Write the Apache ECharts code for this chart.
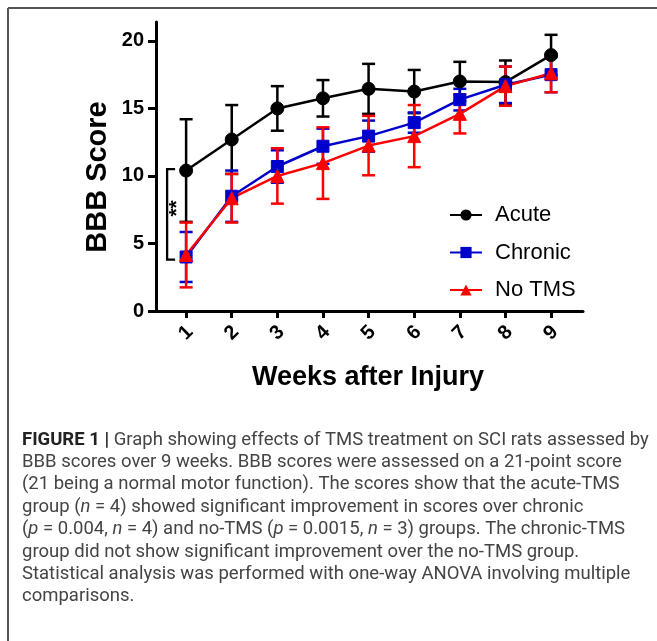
<!DOCTYPE html>
<html>
<head>
<meta charset="utf-8">
<script src="https://cdn.jsdelivr.net/npm/echarts@6/dist/echarts.min.js"></script>
<style>
  html, body { margin: 0; padding: 0; background: #fff; }
  #chart { width: 657px; height: 641px; }
</style>
</head>
<body>
<div id="chart"></div>
<script>
// weeks after injury
const weeks = [1, 2, 3, 4, 5, 6, 7, 8, 9]
const yTicks = [0, 5, 10, 15, 20]

// BBB score means and SD
const acuteMean = [10.4, 12.7, 15.0, 15.75, 16.45, 16.25, 17.0, 16.95, 18.95]
const acuteSd = [3.8, 2.55, 1.65, 1.35, 1.85, 1.6, 1.45, 1.6, 1.5]
const chronicMean = [4.0, 8.5, 10.7, 12.2, 12.95, 13.95, 15.65, 16.75, 17.5]
const chronicSd = [1.85, 1.9, 1.2, 1.3, 1.15, 0.75, 0.8, 1.35, 1.3]
const noTmsMean = [4.15, 8.35, 10.0, 10.95, 12.25, 12.95, 14.6, 16.65, 17.6]
const noTmsSd = [2.4, 1.8, 2.05, 2.65, 2.2, 2.3, 1.45, 1.45, 1.4]

// significance bracket at week 1 (acute vs others)
const bracketWeek = 1
const bracketRange = [10.5, 3.8]
const bracketLabel = '**'

const captionLines = [
  '{b|FIGURE 1 |} Graph showing effects of TMS treatment on SCI rats assessed by',
  'BBB scores over 9 weeks. BBB scores were assessed on a 21-point score',
  '(21 being a normal motor function). The scores show that the acute-TMS',
  'group ({i|n} = 4) showed significant improvement in scores over chronic',
  '({i|p} = 0.004, {i|n} = 4) and no-TMS ({i|p} = 0.0015, {i|n} = 3) groups. The chronic-TMS',
  'group did not show significant improvement over the no-TMS group.',
  'Statistical analysis was performed with one-way ANOVA involving multiple',
  'comparisons.'
]

const FONT = '"Liberation Sans", Arial, Helvetica, sans-serif'
const CAPTION_FONT = 'Roboto, "Liberation Sans", sans-serif'

function errorBars(name, means, sds, color) {
  return {
    type: 'custom',
    name: name + ' SD',
    silent: true,
    data: weeks.map((w, i) => [w, means[i] - sds[i], means[i] + sds[i]]),
    encode: { x: 0, y: [1, 2] },
    renderItem(params, api) {
      const lo = api.coord([api.value(0), api.value(1)])
      const hi = api.coord([api.value(0), api.value(2)])
      const half = 6.5
      const style = { stroke: color, lineWidth: 2.5 }
      return {
        type: 'group',
        children: [
          { type: 'line', shape: { x1: lo[0], y1: lo[1], x2: hi[0], y2: hi[1] }, style },
          { type: 'line', shape: { x1: hi[0] - half, y1: hi[1], x2: hi[0] + half, y2: hi[1] }, style },
          { type: 'line', shape: { x1: lo[0] - half, y1: lo[1], x2: lo[0] + half, y2: lo[1] }, style }
        ]
      }
    }
  }
}

function meanLine(name, means, color, symbol, size) {
  return {
    type: 'line',
    name,
    data: weeks.map((w, i) => [w, means[i]]),
    symbol,
    symbolSize: size,
    showAllSymbol: true,
    itemStyle: { color, borderColor: color },
    lineStyle: { color, width: 2.5 },
    emphasis: { disabled: true }
  }
}

const chart = echarts.init(document.getElementById('chart'))

const option = {
  animation: false,
  backgroundColor: '#fff',
  grid: { left: 156, right: 74, top: 22, bottom: 330 },
  legend: {
    data: ['Acute', 'Chronic', 'No TMS'],
    orient: 'vertical',
    left: 444,
    top: 199,
    itemWidth: 32,
    itemHeight: 14,
    itemGap: 15.5,
    textStyle: { fontFamily: FONT, fontSize: 22, color: '#000', padding: [0, 0, 0, 8] }
  },
  xAxis: {
    type: 'value',
    min: 0.34,
    max: 9.7,
    splitLine: { show: false },
    axisLine: { lineStyle: { color: '#000', width: 3 } },
    axisTick: { show: true, length: 7, lineStyle: { color: '#000', width: 3 }, customValues: weeks },
    axisLabel: {
      customValues: weeks,
      rotate: 45,
      align: 'center',
      verticalAlign: 'middle',
      margin: 22,
      fontFamily: FONT,
      fontWeight: 'bold',
      fontSize: 20,
      color: '#000'
    }
  },
  yAxis: {
    type: 'value',
    min: 0,
    max: 21.4,
    splitLine: { show: false },
    axisLine: { show: true, lineStyle: { color: '#000', width: 3 } },
    axisTick: { show: true, length: 8, lineStyle: { color: '#000', width: 3 }, customValues: yTicks },
    axisLabel: {
      customValues: yTicks,
      margin: 12,
      fontFamily: FONT,
      fontWeight: 'bold',
      fontSize: 20,
      color: '#000'
    }
  },
  series: [
    errorBars('Acute', acuteMean, acuteSd, '#000'),
    meanLine('Acute', acuteMean, '#000', 'circle', 13),
    errorBars('Chronic', chronicMean, chronicSd, '#0000cc'),
    meanLine('Chronic', chronicMean, '#0000cc', 'rect', 12),
    errorBars('No TMS', noTmsMean, noTmsSd, '#ff0000'),
    meanLine('No TMS', noTmsMean, '#ff0000', 'triangle', 13),
    {
      type: 'custom',
      name: 'bracket',
      silent: true,
      data: [[bracketWeek, bracketRange[0], bracketRange[1]]],
      encode: { x: 0, y: [1, 2] },
      renderItem(params, api) {
        const top = api.coord([api.value(0), api.value(1)])
        const bot = api.coord([api.value(0), api.value(2)])
        const xv = top[0] - 19
        const xa = top[0] - 11
        const style = { stroke: '#000', lineWidth: 2.3, fill: null }
        return {
          type: 'group',
          children: [
            { type: 'polyline', shape: { points: [[xa, top[1]], [xv, top[1]], [xv, bot[1]], [xa, bot[1]]] }, style },
            {
              type: 'text',
              x: xv + 10,
              y: (top[1] + bot[1]) / 2 - 6,
              rotation: Math.PI / 2,
              style: {
                text: bracketLabel,
                fontFamily: FONT,
                fontWeight: 'bold',
                fontSize: 21,
                fill: '#000',
                align: 'center',
                verticalAlign: 'middle'
              }
            }
          ]
        }
      }
    }
  ],
  graphic: [
    { type: 'line', shape: { x1: 8, y1: 8, x2: 657, y2: 8 }, style: { stroke: '#555', lineWidth: 2 } },
    { type: 'line', shape: { x1: 8, y1: 8, x2: 8, y2: 641 }, style: { stroke: '#555', lineWidth: 2 } },
    {
      type: 'text',
      x: 98,
      y: 177,
      rotation: Math.PI / 2,
      style: {
        text: 'BBB Score',
        fontFamily: FONT,
        fontWeight: 'bold',
        fontSize: 29,
        fill: '#000',
        align: 'center',
        verticalAlign: 'middle'
      }
    },
    {
      type: 'text',
      x: 368,
      y: 378,
      style: {
        text: 'Weeks after Injury',
        fontFamily: FONT,
        fontWeight: 'bold',
        fontSize: 27,
        fill: '#000',
        align: 'center',
        verticalAlign: 'middle'
      }
    }
  ].concat(captionLines.map((line, i) => ({
    type: 'text',
    x: 22,
    y: 440 + i * 22.4,
    style: {
      text: line,
      fontFamily: CAPTION_FONT,
      fontSize: 18.5,
      fill: '#444',
      verticalAlign: 'middle',
      rich: {
        b: { fontFamily: CAPTION_FONT, fontSize: 18.5, fontWeight: 'bold', fill: '#222' },
        i: { fontFamily: CAPTION_FONT, fontSize: 18.5, fontStyle: 'italic', fill: '#444' }
      }
    }
  })))
}

chart.setOption(option)
</script>
</body>
</html>
